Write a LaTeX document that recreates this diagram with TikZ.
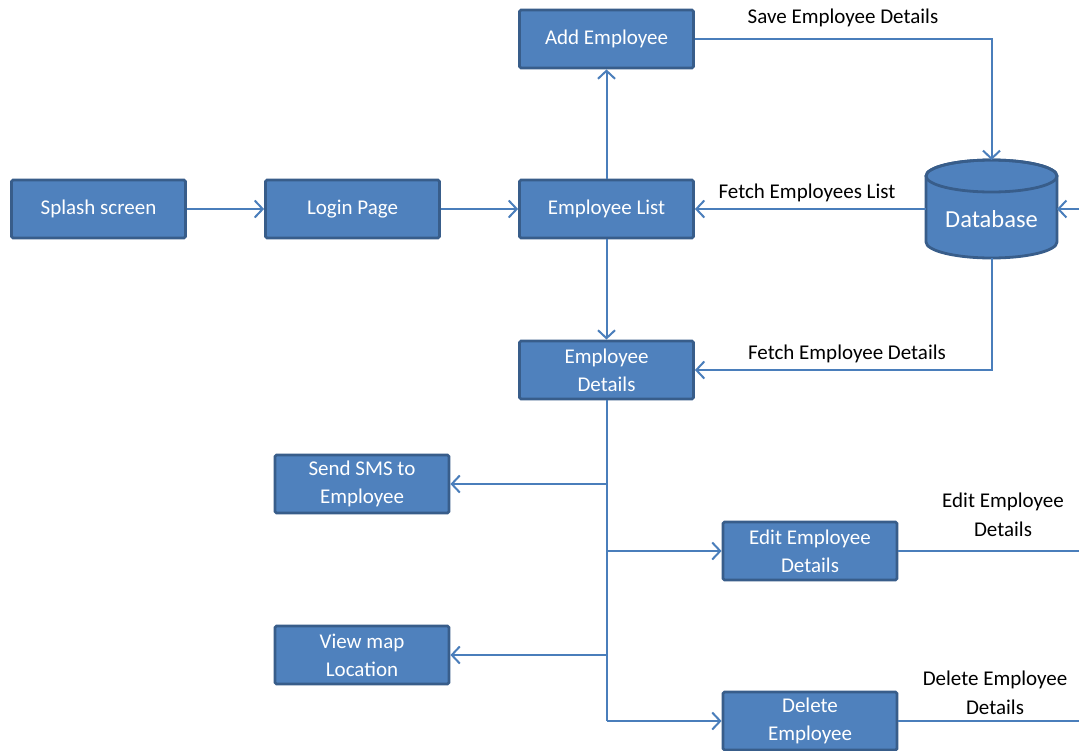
\documentclass[tikz,border=0pt]{standalone}
\usepackage{fontspec}
\setmainfont{Carlito}
\usetikzlibrary{arrows.meta}
\definecolor{boxfill}{HTML}{4F81BD}
\definecolor{boxline}{HTML}{385D8A}
\definecolor{conn}{HTML}{4A7EBB}
\tikzset{
  box/.style={rectangle, rounded corners=1.5pt, draw=boxline, line width=2.8pt, fill=boxfill,
    minimum width=174pt, minimum height=58pt, inner sep=0pt, align=center, text=white,
    font=\fontsize{21}{28}\selectfont},
  lbl/.style={inner sep=0pt, align=center, text=black, font=\fontsize{21}{29}\selectfont},
  wire/.style={draw=conn, line width=2pt},
  arr/.style={wire, -{Straight Barb[length=8pt, width=17pt, line width=2pt]}},
}
\begin{document}
\begin{tikzpicture}[x=1pt, y=-1pt]
\useasboundingbox (0,0) rectangle (1079,750);
\clip (0,0) rectangle (1079,750);
\fill[white] (0,0) rectangle (1079,750);

% database cylinder
\filldraw[fill=boxfill, draw=boxline, line width=2.8pt]
  (926,176) -- (926,242) arc[start angle=180, end angle=360, x radius=65.5pt, y radius=16pt]
  -- (1057,176) arc[start angle=0, end angle=180, x radius=65.5pt, y radius=16pt] -- cycle;
\draw[boxline, line width=2.8pt] (991.5,176) ellipse [x radius=65.5pt, y radius=16pt];
\node[text=white, inner sep=0pt, font=\fontsize{24.5}{28}\selectfont] (db) at (991.5,219) {Database};
\coordinate (dbN) at (991.5,160);
\coordinate (dbW) at (926,209);
\coordinate (dbE) at (1057,209);
\coordinate (dbS) at (991.5,258);
\coordinate (edgeDB) at (1079,209);

% boxes
\node[box] (splash) at (98.5,209) {Splash screen};
\node[box] (login) at (352.5,209) {Login Page};
\node[box] (list) at (606.5,209) {Employee List};
\node[box] (add) at (606.5,39) {Add Employee};
\node[box] (det) at (606.5,370) {Employee\\Details};
\node[box] (sms) at (362,484) {Send SMS to\\Employee};
\node[box] (map) at (362,655) {View map\\Location};
\node[box] (edit) at (810,551) {Edit Employee\\Details};
\node[box] (del) at (810,721) {Delete\\Employee};

% junctions
\coordinate (j1) at (606.5,484);
\coordinate (j2) at (606.5,551);
\coordinate (j3) at (606.5,655);
\coordinate (j4) at (606.5,721);
\coordinate (edgeE) at (1079,551);
\coordinate (edgeD) at (1079,721);

% connectors
\draw[arr] (splash) -- (login);
\draw[arr] (login) -- (list);
\draw[arr] (list) -- (add);
\draw[arr] (list) -- (det);
\draw[arr] (add.east) -| (dbN);
\draw[arr] (dbW) -- (list);
\draw[arr] (dbS) |- (det.east);
\draw[arr] (edgeDB) -- (dbE);
\draw[wire] (det.south) -- (j4);
\draw[arr] (j1) -- (sms.east);
\draw[arr] (j2) -- (edit.west);
\draw[arr] (j3) -- (map.east);
\draw[arr] (j4) -- (del.west);
\draw[wire] (edit.east) -- (edgeE);
\draw[wire] (del.east) -- (edgeD);

% labels
\node[lbl] (l1) at (843,18) {Save Employee Details};
\node[lbl] (l2) at (807,193) {Fetch Employees List};
\node[lbl] (l3) at (847,354) {Fetch Employee Details};
\node[lbl] (l4) at (1003,515) {Edit Employee\\Details};
\node[lbl] (l5) at (995,693) {Delete Employee\\Details};
\end{tikzpicture}
\end{document}
